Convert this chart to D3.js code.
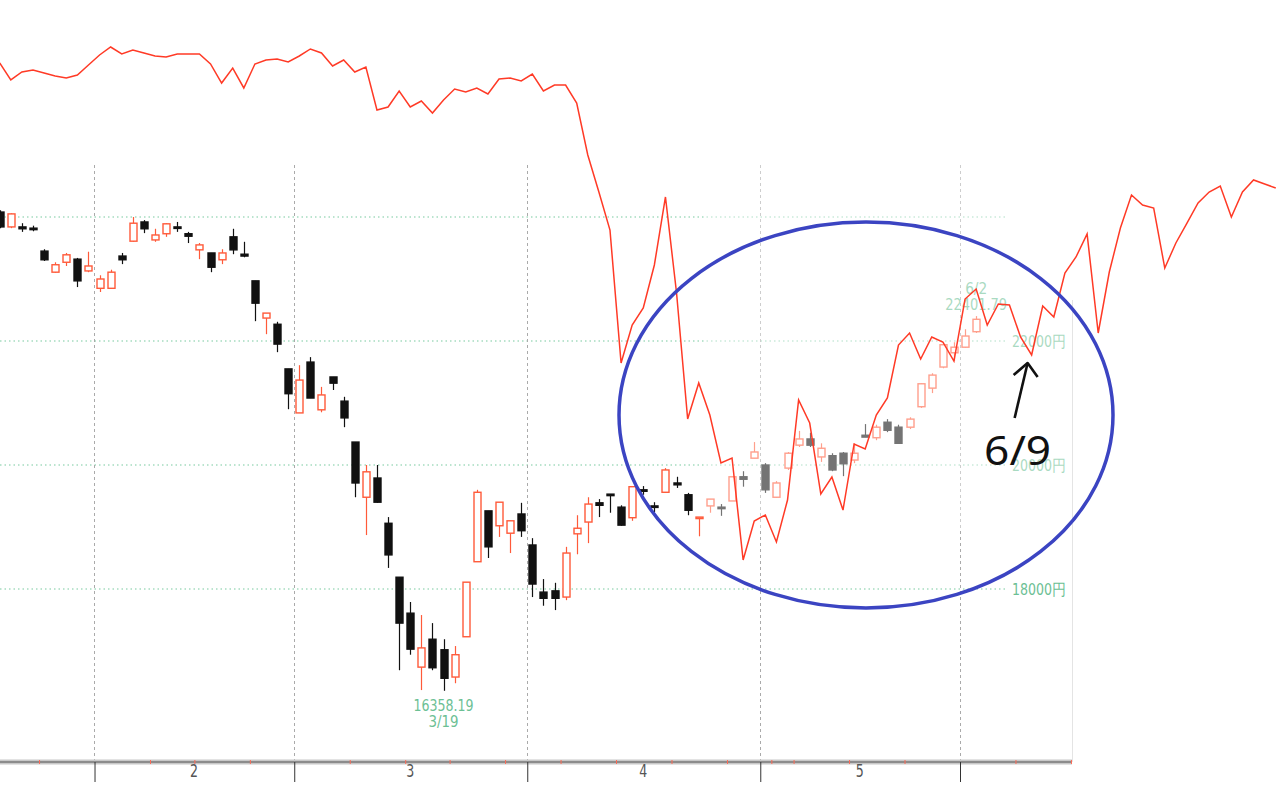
<!DOCTYPE html>
<html><head><meta charset="utf-8">
<script src="https://cdn.jsdelivr.net/npm/d3@7"></script>
<style>html,body{margin:0;padding:0;background:#fff;overflow:hidden}</style>
</head><body>
<svg id="c" width="1280" height="789"></svg>
<script>
// ---- data ----
const dates = ["1/21","1/22","1/23","1/24","1/27","1/28","1/29","1/30","1/31",
"2/3","2/4","2/5","2/6","2/7","2/10","2/12","2/13","2/14","2/17","2/18","2/19","2/20","2/21","2/25","2/26","2/27","2/28",
"3/2","3/3","3/4","3/5","3/6","3/9","3/10","3/11","3/12","3/13","3/16","3/17","3/18","3/19","3/23","3/24","3/25","3/26","3/27","3/30","3/31",
"4/1","4/2","4/3","4/6","4/7","4/8","4/9","4/10","4/13","4/14","4/15","4/16","4/17","4/20","4/21","4/22","4/23","4/24","4/27","4/28","4/30",
"5/1","5/7","5/8","5/11","5/12","5/13","5/14","5/15","5/18","5/19","5/20","5/21","5/22","5/25","5/26","5/27","5/28","5/29",
"6/1","6/2","6/3","6/4","6/5","6/8","6/9","6/10","6/11","6/12","6/15","6/16","6/17","6/18","6/19","6/22","6/23","6/24","6/25","6/26","6/29","6/30",
"7/1","7/2","7/3","7/6","7/7","7/8","7/9"];

const opens = [24080,23840,23840,23820,23450,23110,23270,23320,23130,
22850,22850,23370,23610,23920,23630,23730,23840,23730,23470,23420,23310,23680,23400,22970,22370,22270,21550,
20840,21660,20890,21420,21030,20370,19480,19790,19060,18190,17610,16740,17190,17020,16580,17230,18440,19260,19020,18900,19210,
18710,17950,17970,17870,18890,19080,19390,19530,19320,19150,19600,19340,19560,19710,19520,19150,19340,19320,19420,19810,20110,
20000,19480,19950,20320,20420,20130,20150,20190,20080,20480,20440,20690,20610,20610,20940,21240,21580,21810,
21900,22150];
const highs = [24110,24060,23900,23860,23480,23270,23420,23340,23440,
23060,23150,23420,24000,23950,23810,23900,23920,23760,23580,23420,23480,23810,23600,22970,22450,22310,21550,
21610,21740,21260,21420,21100,20370,20000,20000,19160,18190,17790,17580,17450,17190,17080,18110,19600,19260,19400,19100,19390,
18820,18160,18100,18680,19190,19480,19450,19530,19350,19660,19660,19400,19950,19810,19550,19160,19450,19370,19810,19900,20370,
20030,19740,20210,20550,20520,20350,20190,20210,20350,20660,20650,20740,20650,20770,21320,21480,21980,21980,
22190,22401.79];
const lows = [23820,23820,23760,23770,23290,23100,23210,22870,23110,
22790,22840,23240,23600,23740,23600,23680,23760,23580,23320,23110,23240,23400,23350,22320,22110,21820,20900,
20840,21080,20850,21210,20610,19480,18870,19390,18340,16690,16940,16370,16690,16358.19,16480,17230,18440,18500,18840,18580,18840,
17870,17730,17660,17820,18560,18740,19160,19230,19020,19100,19520,19240,19550,19630,19190,18850,19230,19180,19420,19650,20110,
19550,19470,19920,20290,20290,20050,19900,19820,20030,20450,20400,20530,20340,20580,20920,21160,21560,21680,
21890,22130];
const closes = [23840,24050,23810,23800,23310,23230,23390,22970,23210,
23000,23110,23310,23900,23810,23710,23890,23820,23690,23550,23190,23420,23470,23370,22610,22450,21950,21150,
21370,21080,21130,21320,20760,19710,19890,19400,18550,17450,17030,17050,16730,16560,16940,18110,19560,18680,19400,19100,18940,
18080,17850,17850,18580,18980,19370,19350,19520,19030,19650,19580,19320,19920,19680,19270,19160,19450,19310,19810,19770,20210,
19600,19710,20190,20420,20320,20270,19920,20020,20190,20450,20610,20560,20350,20740,21310,21450,21940,21900,
22080,22350];

// red overlay line (same trading-day axis, read in yen units of the price scale)
const lineValues = [26484,26210,26339,26371,26323,26274,26242,26290,26452,26613,
26742,26629,26694,26645,26597,26581,26629,26629,26629,26468,
26161,26403,26081,26468,26532,26548,26500,26597,26710,26645,
26435,26532,26339,26419,25726,25774,26032,25774,25871,25677,
25887,26065,26016,26081,25984,26226,26242,26194,26306,26032,
26129,26129,25839,25000,24403,23790,21645,22258,22532,23226,
24323,22774,20742,21323,20806,20032,20113,18468,19097,19194,
18758,19435,21048,20677,19532,19806,19274,20339,20258,20806,
21081,21935,22129,21710,22065,21984,21677,22677,22839,22258,
22597,22581,22065,21774,22565,22387,23097,23355,23726,22129,
23113,23823,24355,24194,24145,23177,23581,23903,24226,24403,
24500,24000,24403,24597,24532,24468];

const priceTicks = [18000, 20000, 22000, 24000];
const priceTickLabels = ["18000円", "20000円", "22000円", ""];
const monthLabels = ["2", "3", "4", "5"];

const lowLabel = {idx: 40, value: "16358.19", date: "3/19"};
const highLabel = {idx: 88, value: "22401.79", date: "6/2"};
const noteLabel = {idx: 93, text: "6/9"};

// ---- scales ----
const svg = d3.select("#c");
const x = d3.scaleLinear().domain([0, 115]).range([-0.3, -0.3 + 115 * 11.096]);
const y = d3.scaleLinear().domain([18000, 24000]).range([589, 217]);
const plotRight = 1072, axisY = 762, gridTop = 165;

const green = "#6cc094";
const upRed = "#ff5a3a";
const lineRed = "#ff3a26";

// parse dates
const parsed = dates.map(s => { const [m, d] = s.split("/").map(Number); return new Date(2020, m - 1, d); });
const monthBounds = [], weekBounds = [];
for (let i = 1; i < parsed.length; i++) {
  const a = parsed[i - 1], b = parsed[i];
  if (a.getMonth() !== b.getMonth()) monthBounds.push(i - 0.5);
  else if (b.getDay() <= a.getDay() || (b - a) / 864e5 >= 7) weekBounds.push(i - 0.5);
}
const mb = monthBounds.filter(v => x(v) < plotRight);
const wb = weekBounds.filter(v => x(v) < plotRight);

// month label positions: middle of each month's trading days
const monthMids = monthLabels.map(lbl => {
  const idx = parsed.map((d, i) => [d, i]).filter(([d]) => String(d.getMonth() + 1) === lbl).map(p => p[1]);
  return (idx[0] + idx[idx.length - 1]) / 2;
});

// ---- horizontal grid ----
svg.append("g").selectAll("line").data(priceTicks).join("line")
  .attr("x1", 0).attr("x2", 1005).attr("y1", d => y(d)).attr("y2", d => y(d))
  .attr("stroke", "#a5dcc0").attr("stroke-width", 1.3).attr("stroke-dasharray", "1.5,3");

// ---- vertical grid ----
svg.append("g").selectAll("line").data(mb).join("line")
  .attr("x1", d => Math.round(x(d)) + 0.5).attr("x2", d => Math.round(x(d)) + 0.5)
  .attr("y1", gridTop).attr("y2", axisY)
  .attr("stroke", "#aaa").attr("stroke-width", 1).attr("stroke-dasharray", "3,3");

// right border
svg.append("line").attr("x1", plotRight + 0.5).attr("x2", plotRight + 0.5).attr("y1", 300).attr("y2", axisY)
  .attr("stroke", "#e4e4e4").attr("stroke-width", 1);

// price labels
svg.append("g").selectAll("text").data(priceTicks.map((v, i) => ({v, t: priceTickLabels[i]})).filter(d => d.t))
  .join("text").attr("x", 1066).attr("y", d => y(d.v) + 6).attr("text-anchor", "end")
  .attr("font-family", "'Liberation Sans Narrow','DejaVu Sans Condensed','Liberation Sans',sans-serif")
  .attr("font-size", 16).attr("fill", green).attr("textLength", 54).attr("lengthAdjust", "spacingAndGlyphs")
  .text(d => d.t);

// ---- candles ----
const candles = opens.map((o, i) => ({i, o, h: highs[i], l: lows[i], c: closes[i]}));
const cg = svg.append("g");
cg.selectAll("line").data(candles).join("line")
  .attr("x1", d => Math.round(x(d.i)) + 0.5).attr("x2", d => Math.round(x(d.i)) + 0.5)
  .attr("y1", d => y(d.h)).attr("y2", d => y(d.l))
  .attr("stroke", d => d.c >= d.o ? upRed : "#111").attr("stroke-width", 1.2);
cg.selectAll("rect").data(candles).join("rect")
  .attr("x", d => Math.round(x(d.i)) - 3)
  .attr("y", d => y(Math.max(d.o, d.c)))
  .attr("width", 7)
  .attr("height", d => Math.max(1.5, Math.abs(y(d.o) - y(d.c))))
  .attr("fill", d => d.c >= d.o ? "#fff" : "#111")
  .attr("stroke", d => d.c >= d.o ? upRed : "#111")
  .attr("stroke-width", 1.4);

// low / high labels
const lblFont = "'Liberation Sans Narrow','DejaVu Sans Condensed','Liberation Sans',sans-serif";
function twoLine(idx, first, second, y1, w1, w2) {
  svg.append("text").attr("x", x(idx)).attr("y", y1).attr("text-anchor", "middle")
    .attr("font-family", lblFont).attr("font-size", 15).attr("fill", green)
    .attr("textLength", w1).attr("lengthAdjust", "spacingAndGlyphs").text(first);
  svg.append("text").attr("x", x(idx)).attr("y", y1 + 16).attr("text-anchor", "middle")
    .attr("font-family", lblFont).attr("font-size", 15).attr("fill", green)
    .attr("textLength", w2).attr("lengthAdjust", "spacingAndGlyphs").text(second);
}
twoLine(lowLabel.idx, lowLabel.value, lowLabel.date, y(lowLabel.idx >= 0 ? lows[lowLabel.idx] : 0) + 20, 60, 30);
twoLine(highLabel.idx, highLabel.date, highLabel.value, y(highs[highLabel.idx]) - 22, 22, 62);

// fade (pasted overlay region)
svg.append("rect").attr("x", 705).attr("y", gridTop).attr("width", plotRight - 705).attr("height", 365)
  .attr("fill", "#fff").attr("opacity", 0.42);

// ---- bottom axis ----
svg.append("line").attr("x1", 0).attr("x2", plotRight).attr("y1", axisY).attr("y2", axisY)
  .attr("stroke", "#c8c8c8").attr("stroke-width", 5);
svg.append("line").attr("x1", 0).attr("x2", plotRight).attr("y1", axisY).attr("y2", axisY)
  .attr("stroke", "#8c8c8c").attr("stroke-width", 2);

const monthAxis = d3.axisBottom(x).tickValues(mb).tickSize(20).tickFormat("");
const ga = svg.append("g").attr("transform", `translate(0.5,${axisY})`).call(monthAxis);
ga.select(".domain").remove();
ga.selectAll(".tick line").attr("stroke", "#333").attr("stroke-width", 1);

const weekAxis = d3.axisBottom(x).tickValues(wb).tickSize(4).tickFormat("");
const gw = svg.append("g").attr("transform", `translate(0.5,${axisY - 2})`).call(weekAxis);
gw.select(".domain").remove();
gw.selectAll(".tick line").attr("stroke", "#ff6a55").attr("stroke-width", 1);

const labAxis = d3.axisBottom(x).tickValues(monthMids).tickSize(0).tickPadding(3)
  .tickFormat((d, i) => monthLabels[i]);
const gl = svg.append("g").attr("transform", `translate(0,${axisY})`).call(labAxis);
gl.select(".domain").remove();
gl.selectAll(".tick text").attr("font-family", lblFont).attr("font-size", 17).attr("fill", "#555")
  .attr("transform", "scale(0.8,1)").attr("x", function () { return 0; });
gl.selectAll(".tick").attr("transform", d => `translate(${x(d)},0)`);
gl.selectAll(".tick text").attr("transform", null).attr("textLength", 8).attr("lengthAdjust", "spacingAndGlyphs");

// ---- red overlay line ----
svg.append("path").datum(lineValues)
  .attr("fill", "none").attr("stroke", lineRed).attr("stroke-width", 1.5).attr("stroke-linejoin", "miter")
  .attr("d", d3.line().x((d, i) => x(i)).y(d => y(d)));

// ---- ellipse ----
svg.append("ellipse").attr("cx", 866).attr("cy", 415).attr("rx", 247).attr("ry", 193)
  .attr("fill", "none").attr("stroke", "#3b44c2").attr("stroke-width", 3.5);

// ---- arrow + note ----
const nx = x(noteLabel.idx), ny = y(lineValues[noteLabel.idx]);
const tip = [nx - 4, ny + 8], tail = [nx - 17, ny + 63];
svg.append("path").attr("d", `M${tail[0]},${tail[1]}L${tip[0]},${tip[1]}`)
  .attr("stroke", "#111").attr("stroke-width", 2.6).attr("fill", "none");
svg.append("path").attr("d", `M${tip[0] - 14},${tip[1] + 12}L${tip[0]},${tip[1]}L${tip[0] + 10},${tip[1] + 14}`)
  .attr("stroke", "#111").attr("stroke-width", 2.6).attr("fill", "none").attr("stroke-linejoin", "round");
svg.append("text").attr("x", nx - 14).attr("y", ny + 110).attr("text-anchor", "middle")
  .attr("font-family", "'Noto Sans','Open Sans',sans-serif").attr("font-size", 40).attr("fill", "#111")
  .attr("textLength", 67).attr("lengthAdjust", "spacingAndGlyphs").text(noteLabel.text);
</script>
</body></html>
